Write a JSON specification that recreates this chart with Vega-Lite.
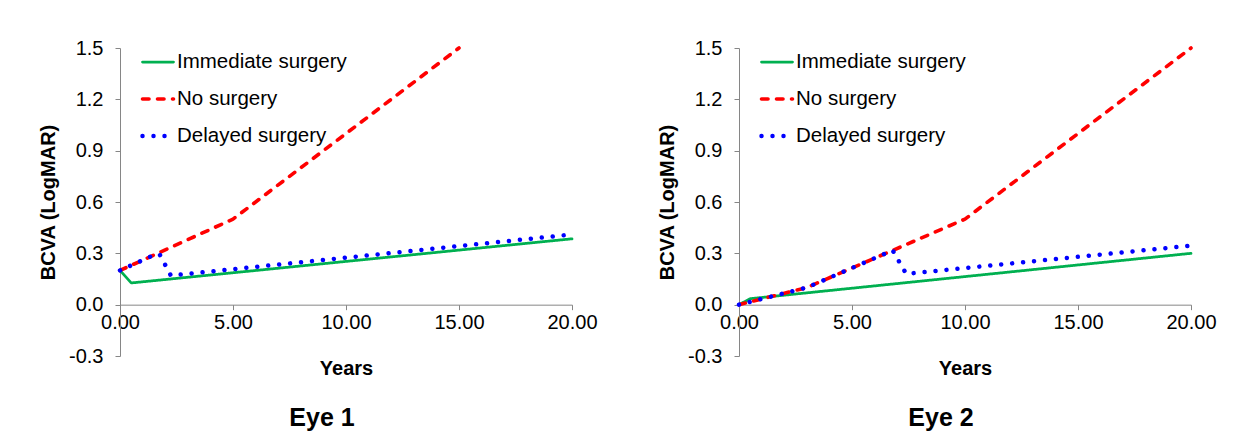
{
  "$schema": "https://vega.github.io/schema/vega-lite/v6.json",
  "usermeta": {"embedOptions": {"actions": false}},
  "background": "white",
  "padding": {"left": 38, "top": 38, "right": 5, "bottom": 5},
  "datasets": {
    "bcva": [
      {"eye": "Eye 1", "series": "Immediate surgery", "years": 0, "bcva": 0.2},
      {"eye": "Eye 1", "series": "Immediate surgery", "years": 0.5, "bcva": 0.127},
      {"eye": "Eye 1", "series": "Immediate surgery", "years": 20, "bcva": 0.385},
      {"eye": "Eye 1", "series": "No surgery", "years": 0, "bcva": 0.2},
      {"eye": "Eye 1", "series": "No surgery", "years": 5, "bcva": 0.5},
      {"eye": "Eye 1", "series": "No surgery", "years": 15, "bcva": 1.5},
      {"eye": "Eye 1", "series": "Delayed surgery", "years": 0, "bcva": 0.2},
      {"eye": "Eye 1", "series": "Delayed surgery", "years": 1.5, "bcva": 0.29},
      {"eye": "Eye 1", "series": "Delayed surgery", "years": 1.75, "bcva": 0.295},
      {"eye": "Eye 1", "series": "Delayed surgery", "years": 2.25, "bcva": 0.17},
      {"eye": "Eye 1", "series": "Delayed surgery", "years": 20, "bcva": 0.41},
      {"eye": "Eye 2", "series": "Immediate surgery", "years": 0, "bcva": 0},
      {"eye": "Eye 2", "series": "Immediate surgery", "years": 0.5, "bcva": 0.035},
      {"eye": "Eye 2", "series": "Immediate surgery", "years": 20, "bcva": 0.3},
      {"eye": "Eye 2", "series": "No surgery", "years": 0, "bcva": 0},
      {"eye": "Eye 2", "series": "No surgery", "years": 3, "bcva": 0.1},
      {"eye": "Eye 2", "series": "No surgery", "years": 10, "bcva": 0.5},
      {"eye": "Eye 2", "series": "No surgery", "years": 20, "bcva": 1.5},
      {"eye": "Eye 2", "series": "Delayed surgery", "years": 0, "bcva": 0},
      {"eye": "Eye 2", "series": "Delayed surgery", "years": 3, "bcva": 0.1},
      {"eye": "Eye 2", "series": "Delayed surgery", "years": 6.8, "bcva": 0.317},
      {"eye": "Eye 2", "series": "Delayed surgery", "years": 7.4, "bcva": 0.18},
      {"eye": "Eye 2", "series": "Delayed surgery", "years": 20, "bcva": 0.345}
    ]
  },
  "spacing": 59,
  "resolve": {"scale": {"color": "independent", "strokeDash": "independent", "strokeWidth": "independent", "x": "independent", "y": "independent"}},
  "hconcat": [
    {
      "width": 452,
      "height": 308,
      "data": {"name": "bcva"},
      "transform": [{"filter": "datum.eye === 'Eye 1'"}],
      "title": {"text": "Eye 1", "orient": "bottom", "frame": "group", "anchor": "middle", "dx": -24, "offset": 27, "fontSize": 25, "fontWeight": "bold", "font": "Liberation Sans", "color": "black"},
      "mark": {"type": "line", "strokeCap": "round", "strokeJoin": "round"},
      "encoding": {
        "x": {"field": "years", "type": "quantitative", "title": "Years", "scale": {"domain": [0, 20], "nice": false},
              "axis": {"values": [0, 5, 10, 15, 20], "format": ".2f", "offset": -51.33, "labelPadding": 3, "titlePadding": 26, "labelFlush": false, "labelOverlap": false}},
        "y": {"field": "bcva", "type": "quantitative", "title": "BCVA (LogMAR)", "scale": {"domain": [-0.3, 1.5], "nice": false, "zero": false},
              "axis": {"values": [-0.3, 0, 0.3, 0.6, 0.9, 1.2, 1.5], "labelExpr": "datum.value < 0 ? '-' + format(-datum.value, '.1f') : format(datum.value, '.1f')", "labelPadding": 12, "titlePadding": 10.5, "labelFlush": false, "labelOverlap": false}},
        "color": {"field": "series", "type": "nominal", "scale": {"domain": ["Immediate surgery", "No surgery", "Delayed surgery"], "range": ["#00B050", "#FF0000", "#0000FF"]},
                  "legend": {"orient": "none", "legendX": 20, "legendY": -3, "title": null, "encode": {"symbols": {"update": {"strokeCap": {"value": "round"}}}}}},
        "strokeDash": {"field": "series", "type": "nominal", "scale": {"domain": ["Immediate surgery", "No surgery", "Delayed surgery"], "range": [[1, 0], [6.5, 8.5], [0.01, 10.99]]},
                  "legend": {"orient": "none", "legendX": 20, "legendY": -3, "title": null, "encode": {"symbols": {"update": {"strokeCap": {"value": "round"}}}}}},
        "strokeWidth": {"field": "series", "type": "nominal", "scale": {"domain": ["Immediate surgery", "No surgery", "Delayed surgery"], "range": [2.75, 4.5, 5.5]},
                  "legend": {"orient": "none", "legendX": 20, "legendY": -3, "title": null, "encode": {"symbols": {"update": {"strokeCap": {"value": "round"}}}}}}
      }
    },
    {
      "width": 452,
      "height": 308,
      "data": {"name": "bcva"},
      "transform": [{"filter": "datum.eye === 'Eye 2'"}],
      "title": {"text": "Eye 2", "orient": "bottom", "frame": "group", "anchor": "middle", "dx": -24, "offset": 27, "fontSize": 25, "fontWeight": "bold", "font": "Liberation Sans", "color": "black"},
      "mark": {"type": "line", "strokeCap": "round", "strokeJoin": "round"},
      "encoding": {
        "x": {"field": "years", "type": "quantitative", "title": "Years", "scale": {"domain": [0, 20], "nice": false},
              "axis": {"values": [0, 5, 10, 15, 20], "format": ".2f", "offset": -51.33, "labelPadding": 3, "titlePadding": 26, "labelFlush": false, "labelOverlap": false}},
        "y": {"field": "bcva", "type": "quantitative", "title": "BCVA (LogMAR)", "scale": {"domain": [-0.3, 1.5], "nice": false, "zero": false},
              "axis": {"values": [-0.3, 0, 0.3, 0.6, 0.9, 1.2, 1.5], "labelExpr": "datum.value < 0 ? '-' + format(-datum.value, '.1f') : format(datum.value, '.1f')", "labelPadding": 12, "titlePadding": 10.5, "labelFlush": false, "labelOverlap": false}},
        "color": {"field": "series", "type": "nominal", "scale": {"domain": ["Immediate surgery", "No surgery", "Delayed surgery"], "range": ["#00B050", "#FF0000", "#0000FF"]},
                  "legend": {"orient": "none", "legendX": 20, "legendY": -3, "title": null, "encode": {"symbols": {"update": {"strokeCap": {"value": "round"}}}}}},
        "strokeDash": {"field": "series", "type": "nominal", "scale": {"domain": ["Immediate surgery", "No surgery", "Delayed surgery"], "range": [[1, 0], [6.5, 8.5], [0.01, 10.99]]},
                  "legend": {"orient": "none", "legendX": 20, "legendY": -3, "title": null, "encode": {"symbols": {"update": {"strokeCap": {"value": "round"}}}}}},
        "strokeWidth": {"field": "series", "type": "nominal", "scale": {"domain": ["Immediate surgery", "No surgery", "Delayed surgery"], "range": [2.75, 4.5, 5.5]},
                  "legend": {"orient": "none", "legendX": 20, "legendY": -3, "title": null, "encode": {"symbols": {"update": {"strokeCap": {"value": "round"}}}}}}
      }
    }
  ],
  "config": {
    "font": "Liberation Sans",
    "view": {"stroke": null},
    "axis": {"grid": false, "domainColor": "#868686", "tickColor": "#868686", "labelColor": "#000000", "titleColor": "#000000", "labelFont": "Liberation Sans", "titleFont": "Liberation Sans", "labelFontSize": 20, "titleFontSize": 20, "titleFontWeight": "bold", "tickSize": 5, "domainWidth": 1, "tickWidth": 1},
    "legend": {"symbolType": "stroke", "symbolSize": 961, "labelFontSize": 20.5, "labelFont": "Liberation Sans", "labelColor": "#000000", "rowPadding": 8.5, "padding": 0, "labelOffset": 1, "labelLimit": 400}
  }
}
